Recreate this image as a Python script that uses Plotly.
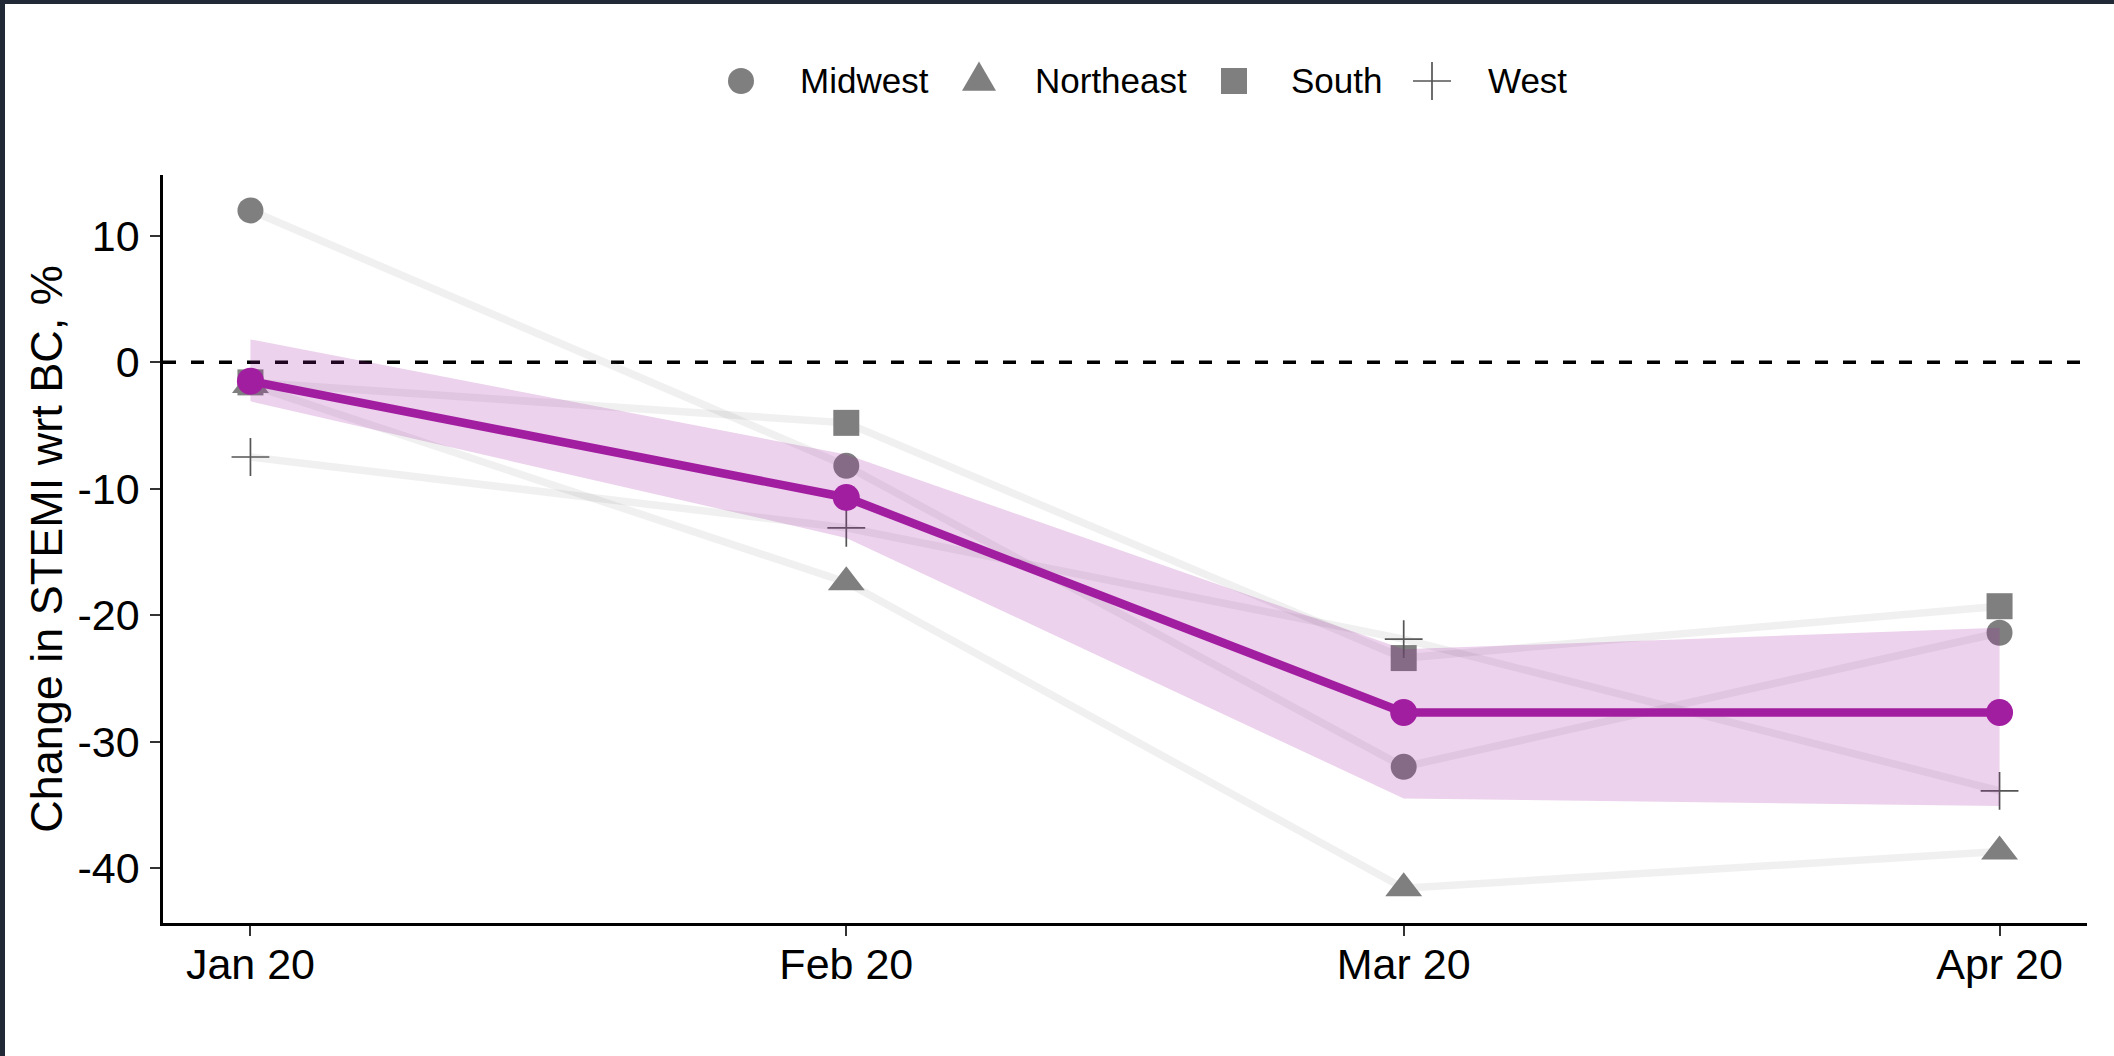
import plotly.graph_objects as go

# ---- data -------------------------------------------------------------
months = ["2020-01-01", "2020-02-01", "2020-03-01", "2020-04-01"]
month_labels = ["Jan 20", "Feb 20", "Mar 20", "Apr 20"]

regions = ["Midwest", "Northeast", "South", "West"]
midwest = [12.0, -8.2, -32.0, -21.4]
northeast = [-1.8, -17.4, -41.6, -38.7]
south = [-1.6, -4.8, -23.4, -19.3]
west = [-7.5, -13.1, -21.9, -33.9]

overall = [-1.5, -10.7, -27.7, -27.7]
ci_lower = [-3.1, -13.9, -34.5, -35.1]
ci_upper = [1.8, -7.3, -22.7, -21.0]

y_ticks = [10, 0, -10, -20, -30, -40]
y_tick_labels = ["10", "0", "-10", "-20", "-30", "-40"]

# ---- styling ----------------------------------------------------------
FIG_W, FIG_H = 2114, 1056
L, R, T, B = 163, 27, 175, 133
PLOT_W = FIG_W - L - R
PLOT_H = FIG_H - T - B

FONT = "Liberation Sans, Arial, sans-serif"
GREY = "#7f7f7f"
PURPLE = "#a21ea0"
RIBBON = "rgba(162,30,160,0.2)"
REGION_LINE = "rgba(128,128,128,0.12)"

region_values = {"Midwest": midwest, "Northeast": northeast, "South": south, "West": west}
region_symbol = {"Midwest": "circle", "Northeast": "triangle-up", "South": "square", "West": "cross-thin"}
region_size = {"Midwest": 26, "Northeast": 32, "South": 26, "West": 27}


def px_x(p):
    return (p - L) / PLOT_W


def px_y(p):
    return (FIG_H - B - p) / PLOT_H


fig = go.Figure()

# region points
for name in regions:
    sym = region_symbol[name]
    if sym == "cross-thin":
        marker = dict(symbol=sym, size=region_size[name], color="#555555",
                      line=dict(color="#555555", width=1.7))
    else:
        marker = dict(symbol=sym, size=region_size[name], color=GREY, line=dict(width=0))
    fig.add_trace(go.Scatter(x=months, y=region_values[name], mode="markers",
                             marker=marker, name=name, showlegend=False,
                             hoverinfo="skip"))

# faint region trajectories
for name in regions:
    fig.add_trace(go.Scatter(x=months, y=region_values[name], mode="lines",
                             line=dict(color=REGION_LINE, width=7.5),
                             showlegend=False, hoverinfo="skip"))

# confidence band around the pooled estimate
fig.add_trace(go.Scatter(x=months + months[::-1], y=ci_upper + ci_lower[::-1],
                         mode="lines", fill="toself", fillcolor=RIBBON,
                         line=dict(width=0, color="rgba(0,0,0,0)"),
                         showlegend=False, hoverinfo="skip"))

# pooled estimate
fig.add_trace(go.Scatter(x=months, y=overall, mode="lines+markers",
                         line=dict(color=PURPLE, width=8.5),
                         marker=dict(color=PURPLE, size=27, line=dict(width=0)),
                         showlegend=False))

# zero reference
fig.add_hline(y=0, line=dict(color="black", width=3.5, dash="13px,15px"), layer="below")

# ---- legend keys (shapes + text) ---------------------------------------
legend_sym_x = [741, 979, 1234, 1432]
legend_text_x = [798, 1033, 1289, 1486]
legend_y = 81
shapes = []
annotations = []
for i, name in enumerate(regions):
    xa, ya = px_x(legend_sym_x[i]), px_y(legend_y)
    sym = region_symbol[name]
    common = dict(xref="paper", yref="paper", xsizemode="pixel", ysizemode="pixel",
                  xanchor=xa, yanchor=ya, layer="above")
    if sym == "circle":
        shapes.append(dict(type="circle", x0=-13, x1=13, y0=-13, y1=13,
                           fillcolor=GREY, line=dict(width=0), **common))
    elif sym == "square":
        shapes.append(dict(type="rect", x0=-13, x1=13, y0=-13, y1=13,
                           fillcolor=GREY, line=dict(width=0), **common))
    elif sym == "triangle-up":
        shapes.append(dict(type="path", path="M-17,-9.8 L17,-9.8 L0,19.6 Z",
                           fillcolor=GREY, line=dict(width=0), **common))
    else:
        shapes.append(dict(type="path", path="M-19,0 L19,0 M0,-19 L0,19",
                           line=dict(color="#555555", width=1.7), **common))
    annotations.append(dict(xref="paper", yref="paper", x=px_x(legend_text_x[i]), y=ya,
                            xanchor="left", yanchor="middle", text=name, showarrow=False,
                            font=dict(family=FONT, size=35, color="black")))

# dark frame along the top and left edges of the canvas
FRAME = "#222936"
shapes.append(dict(type="rect", xref="paper", yref="paper",
                   x0=px_x(0), x1=px_x(FIG_W), y0=px_y(4), y1=px_y(0),
                   fillcolor=FRAME, line=dict(width=0), layer="above"))
shapes.append(dict(type="rect", xref="paper", yref="paper",
                   x0=px_x(0), x1=px_x(5), y0=px_y(FIG_H), y1=px_y(0),
                   fillcolor=FRAME, line=dict(width=0), layer="above"))

fig.update_layout(
    width=FIG_W, height=FIG_H,
    margin=dict(l=L, r=R, t=T, b=B, autoexpand=False),
    paper_bgcolor="white", plot_bgcolor="white",
    font=dict(family=FONT, color="black"),
    showlegend=False,
    shapes=list(fig.layout.shapes) + shapes,
    annotations=annotations,
    xaxis=dict(
        type="date",
        range=["2019-12-27 10:48", "2020-04-05 13:12"],
        tickvals=months, ticktext=month_labels,
        showline=True, linecolor="black", linewidth=2.5,
        ticks="outside", ticklen=10, tickwidth=2, tickcolor="#333333",
        ticklabelstandoff=-8,
        showgrid=False, zeroline=False,
        tickfont=dict(family=FONT, size=43, color="black"),
    ),
    yaxis=dict(
        range=[-44.35, 14.8],
        tickvals=y_ticks, ticktext=y_tick_labels,
        showline=True, linecolor="black", linewidth=2.5,
        ticks="outside", ticklen=10, tickwidth=2, tickcolor="#333333",
        ticklabelstandoff=2,
        showgrid=False, zeroline=False,
        tickfont=dict(family=FONT, size=43, color="black"),
        title=dict(text="Change in STEMI wrt BC, %", standoff=1,
                   font=dict(family=FONT, size=45, color="black")),
    ),
)

fig.write_html("out.html")
